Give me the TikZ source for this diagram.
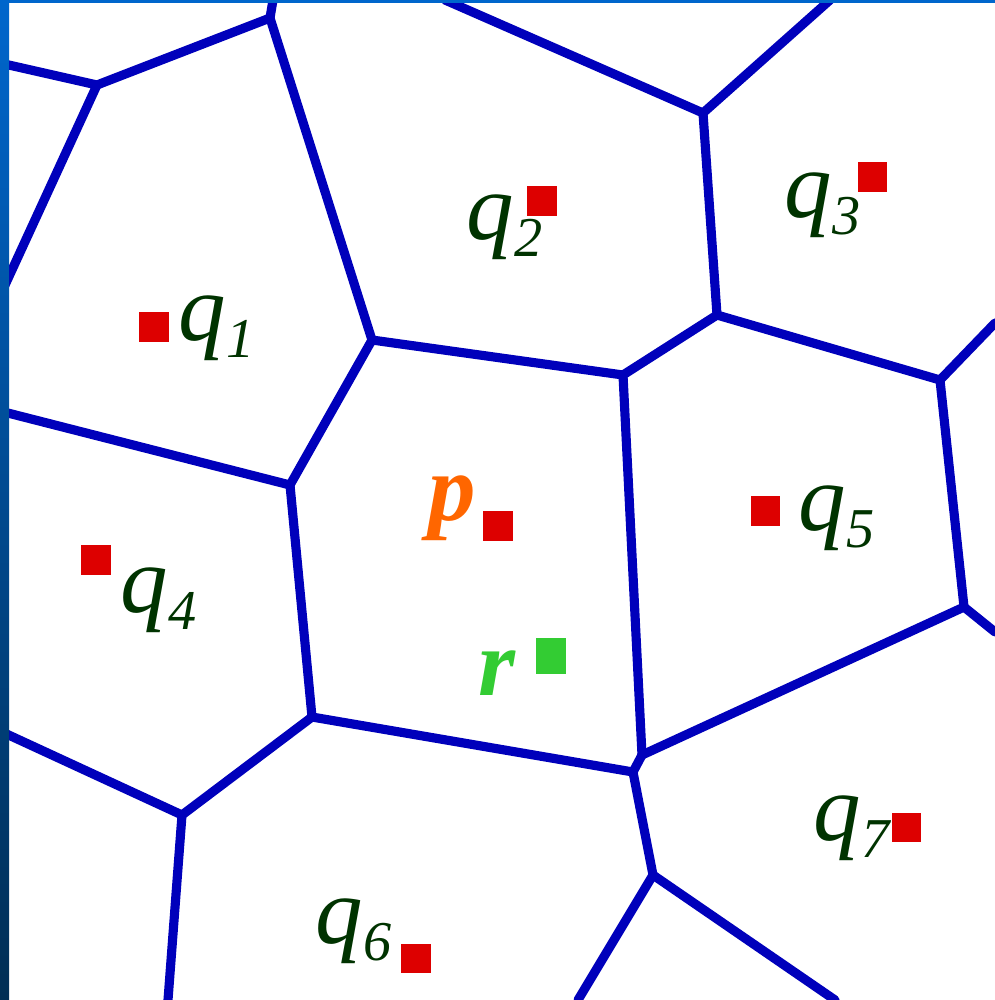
\documentclass[tikz,border=0pt]{standalone}
\usepackage{fontspec}
\setmainfont{Liberation Serif}
\usetikzlibrary{positioning}

\definecolor{cellblue}{RGB}{0,0,187}
\definecolor{sitered}{RGB}{221,0,0}
\definecolor{labgreen}{RGB}{0,51,0}
\definecolor{porange}{RGB}{255,102,0}
\definecolor{rgreen}{RGB}{51,204,51}
\definecolor{bartop}{RGB}{0,102,204}
\definecolor{barbot}{RGB}{0,46,84}

\newcommand{\sitesub}[1]{\raisebox{-0.18em}{\fontsize{16}{19}\selectfont #1}}

\begin{document}
\begin{tikzpicture}[
    x=0.01cm, y=-0.01cm,
    edge/.style={draw=cellblue, line width=2.6pt, line cap=round},
    site/.style={fill=sitered, minimum size=0.29cm, inner sep=0pt},
    lab/.style={font=\fontsize{27}{31}\selectfont\itshape, text=labgreen, inner sep=0pt, anchor=base west}
]

% Frame
\useasboundingbox (0,0) rectangle (995,1000);
\fill[white] (0,0) rectangle (995,1000);

% Points on the border
\coordinate (T1) at (273,0);
\coordinate (T2) at (445,0);
\coordinate (T3) at (830,0);
\coordinate (L1) at (0,63);
\coordinate (L2) at (0,296);
\coordinate (L3) at (0,411);
\coordinate (L4) at (0,731);
\coordinate (R1) at (995,323);
\coordinate (R2) at (995,632);
\coordinate (B1) at (168,1000);
\coordinate (B2) at (578,1000);
\coordinate (B3) at (835,1000);

% Voronoi vertices
\coordinate (A) at (97,85);
\coordinate (B) at (270,18);
\coordinate (C) at (372,340);
\coordinate (D) at (623,375);
\coordinate (E) at (290,485);
\coordinate (F) at (717,315);
\coordinate (H) at (703,113);
\coordinate (I) at (940,380);
\coordinate (J) at (964,607);
\coordinate (G1) at (642,755);
\coordinate (G2) at (633,772);
\coordinate (K) at (312,717);
\coordinate (L) at (653,875);
\coordinate (M) at (182,815);

% Cell edges
\foreach \a/\b in {L1/A, A/B, B/T1, A/L2, B/C, C/D, C/E, E/L3, E/K,
                   D/F, D/G1, F/H, H/T2, H/T3, F/I, I/R1, I/J, J/R2,
                   J/G1, G1/G2, K/G2, G2/L, K/M, M/L4, M/B1, L/B2, L/B3} {
    \draw[edge] (\a) -- (\b);
}

% Sites
\node[site] (q1) at (154,327) {};
\node[site] (q2) at (542,201) {};
\node[site] (q3) at (872,177) {};
\node[site] (q4) at (96,560) {};
\node[site] (q5) at (765,511) {};
\node[site] (q6) at (416,958) {};
\node[site] (q7) at (906,827) {};
\node[site] (p) at (498,526) {};
\node[site, fill=rgreen, minimum width=0.29cm, minimum height=0.36cm] (r) at (551,656) {};

% Labels
\node[lab] (q1lab) at (178,340) {q\sitesub{1}};
\node[lab] (q2lab) at (466,239) {q\sitesub{2}};
\node[lab] (q3lab) at (784,217) {q\sitesub{3}};
\node[lab] (q4lab) at (120,612) {q\sitesub{4}};
\node[lab] (q5lab) at (798,530) {q\sitesub{5}};
\node[lab] (q6lab) at (315,943) {q\sitesub{6}};
\node[lab] (q7lab) at (813,840) {q\sitesub{7}};
\node[lab, font=\fontsize{27}{31}\selectfont\bfseries\itshape, text=porange] (plab) at (428,520) {p};
\node[lab, font=\fontsize{27}{31}\selectfont\bfseries\itshape, text=rgreen] (rlab) at (478,695) {r};

% Window bars
\shade[top color=bartop, bottom color=barbot] (0,0) rectangle (9,1000);
\fill[bartop] (0,0) rectangle (995,3);

\end{tikzpicture}
\end{document}
